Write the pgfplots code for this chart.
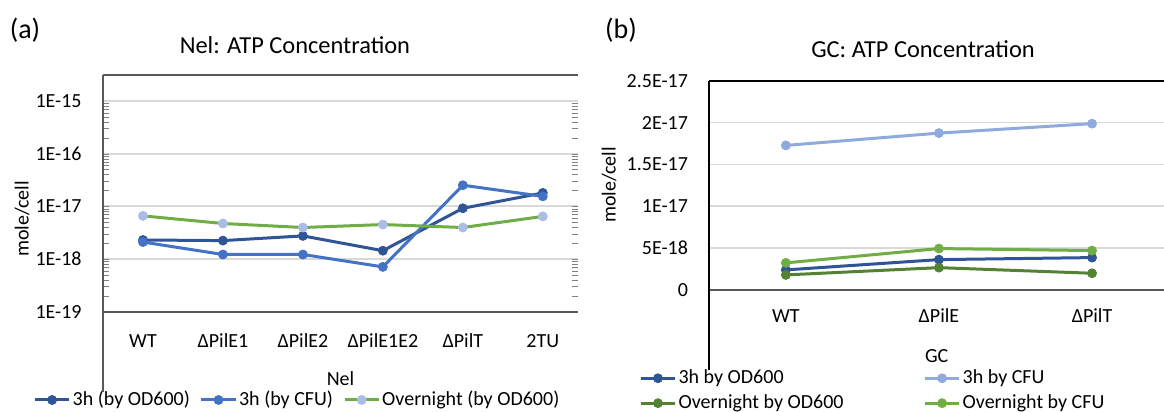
\documentclass[border=0pt]{standalone}
\usepackage{fontspec}
\setmainfont{Carlito}
\usepackage{pgfplots}
\pgfplotsset{compat=1.18}

\definecolor{darkblue}{HTML}{2F5597}
\definecolor{midblue}{HTML}{4472C4}
\definecolor{lightblue}{HTML}{8FAADC}
\definecolor{paleblue}{HTML}{A9BDE5}
\definecolor{xlgreen}{HTML}{70AD47}
\definecolor{darkgreen}{HTML}{548235}
\definecolor{gridgray}{HTML}{D9D9D9}
\definecolor{axisgray}{HTML}{595959}

\newcommand\fs{\fontsize{10}{12}\selectfont}

% 1 px of the reference = 0.5pt
\pgfplotsset{
  excel/.style={
    scale only axis,
    axis line style={draw=none},
    major tick length=0pt,
    ymajorgrids,
    grid style={gridgray, line width=0.9pt},
    tick label style={font=\fs},
    yticklabel style={anchor=east, inner sep=0pt, xshift=-10.5pt},
    label style={font=\fs},
    title style={font=\fontsize{12.2}{14}\selectfont, anchor=center},
    clip=false,
    legend style={draw=none, fill=none, font=\fs, inner sep=0pt,
      nodes={inner sep=1pt}},
    legend cell align=left,
    every axis plot/.append style={line width=1.5pt, mark=*, mark size=2.25pt},
  },
}

\begin{document}
\begin{tikzpicture}
\path[use as bounding box] (0,0) rectangle (582pt,206pt);

\node[font=\fontsize{14}{16}\selectfont] at (12.5pt,191pt) {(a)};
\node[font=\fontsize{14}{16}\selectfont] at (310.5pt,191pt) {(b)};

% (a) Nel, log scale
\begin{axis}[excel,
  at={(51.5pt,50.15pt)}, anchor=south west,
  width=237.5pt, height=118.35pt,
  ymode=log,
  xmin=-0.5, xmax=5.44,
  ymin=1e-19, ymax=3.12e-15,
  xtick={0,1,2,3,4,5},
  xticklabels={WT,ΔPilE1,ΔPilE2,ΔPilE1E2,ΔPilT,2TU},
  xticklabel style={anchor=base, inner sep=0pt, yshift=-18pt},
  ytick={1e-19,1e-18,1e-17,1e-16,1e-15},
  yticklabels={1E-19,1E-18,1E-17,1E-16,1E-15},
  title={Nel: ATP Concentration},
  title style={at={(axis description cs:0.404,1.076)}},
  xlabel={Nel},
  xlabel style={at={(axis description cs:0.5,-0.284)}, anchor=center},
  ylabel={mole/cell},
  ylabel style={at={(axis description cs:-0.1705,0.392)}, anchor=center},
  legend columns=3,
  legend style={at={(axis description cs:-0.147,-0.373)}, anchor=west,
    /tikz/every even column/.append style={column sep=4pt}},
]
\draw[axisgray, line width=0.9pt] (rel axis cs:0,0) -- (rel axis cs:1,0);
\draw[axisgray, line width=0.9pt] (rel axis cs:1,1) -- (rel axis cs:0,1);
\addplot[darkblue, mark options={fill=darkblue, draw=darkblue, line width=0.4pt}]
  coordinates {(0,2.3e-18) (1,2.24e-18) (2,2.75e-18) (3,1.44e-18) (4,9.2e-18) (5,1.8e-17)};
\addplot[midblue, mark options={fill=midblue, draw=midblue, line width=0.4pt}]
  coordinates {(0,2.1e-18) (1,1.22e-18) (2,1.22e-18) (3,7.1e-19) (4,2.52e-17) (5,1.55e-17)};
\addplot[xlgreen, mark options={fill=paleblue, draw=paleblue, line width=0.4pt}]
  coordinates {(0,6.6e-18) (1,4.73e-18) (2,3.97e-18) (3,4.52e-18) (4,3.97e-18) (5,6.45e-18)};
\legend{3h (by OD600),3h (by CFU),Overnight (by OD600)}
\end{axis}

% (b) GC, linear scale
\begin{axis}[excel,
  at={(354.65pt,61pt)}, anchor=south west,
  width=227.35pt, height=104.65pt,
  xmin=-0.5, xmax=2.47,
  ymin=0, ymax=2.5e-17,
  scaled y ticks=false,
  xtick={0,1,2},
  xticklabels={WT,ΔPilE,ΔPilT},
  xticklabel style={anchor=base, inner sep=0pt, yshift=-16.5pt},
  ytick={0,5e-18,1e-17,1.5e-17,2e-17,2.5e-17},
  yticklabels={0,5E-18,1E-17,1.5E-17,2E-17,2.5E-17},
  title={GC: ATP Concentration},
  title style={at={(axis description cs:0.47,1.0955)}},
  xlabel={GC},
  xlabel style={at={(axis description cs:0.5,-0.315)}, anchor=center},
  ylabel={mole/cell},
  ylabel style={at={(axis description cs:-0.2206,0.502)}, anchor=center},
  legend columns=2,
  legend style={at={(axis description cs:-0.1546,-0.37)}, anchor=north west,
    row sep=2pt,
    /tikz/every even column/.append style={column sep=39pt}},
]
\draw[axisgray, line width=0.9pt] (rel axis cs:0,0) -- (rel axis cs:1,0);
\draw[black, line width=0.9pt] (rel axis cs:1,1) -- (rel axis cs:0,1);
\addplot[darkblue, mark options={fill=darkblue, draw=darkblue, line width=0.4pt}]
  coordinates {(0,2.4e-18) (1,3.63e-18) (2,3.87e-18)};
\addplot[lightblue, mark options={fill=lightblue, draw=lightblue, line width=0.4pt}]
  coordinates {(0,1.727e-17) (1,1.874e-17) (2,1.987e-17)};
\addplot[darkgreen, mark options={fill=darkgreen, draw=darkgreen, line width=0.4pt}]
  coordinates {(0,1.8e-18) (1,2.67e-18) (2,2.0e-18)};
\addplot[xlgreen, mark options={fill=xlgreen, draw=xlgreen, line width=0.4pt}]
  coordinates {(0,3.24e-18) (1,4.95e-18) (2,4.71e-18)};
\legend{3h by OD600,3h by CFU,Overnight by OD600,Overnight by CFU}
\end{axis}

% left frame lines, running down past the plot areas as in the reference
\draw[axisgray, line width=0.9pt] (51.5pt,168.5pt) -- (51.5pt,10pt);
\draw[black, line width=0.9pt] (354.65pt,165.65pt) -- (354.65pt,21pt);
\end{tikzpicture}
\end{document}
